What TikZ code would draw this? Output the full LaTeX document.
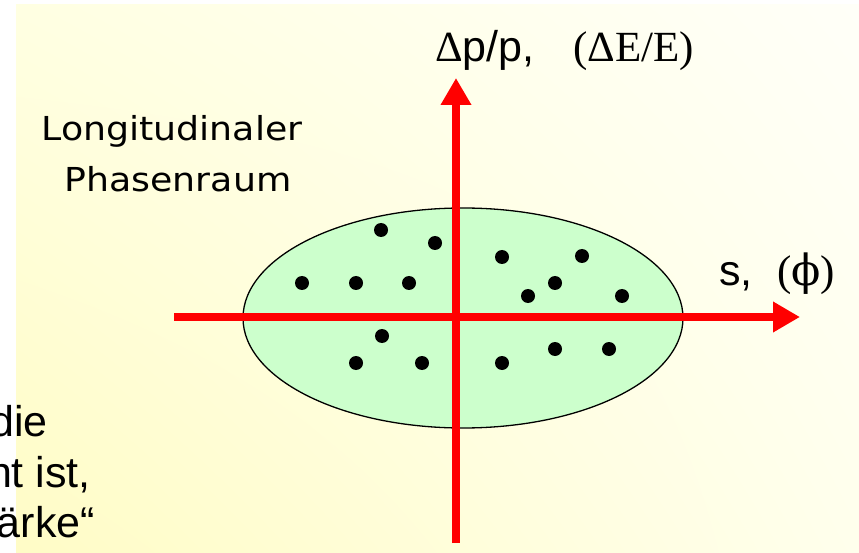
\documentclass[tikz,border=0pt]{standalone}
\usepackage{graphicx}
\usepackage{fontspec}
\setmainfont{Liberation Serif}
\newfontfamily\arialf{Liberation Sans}
\newfontfamily\timesf{Liberation Serif}
\newfontfamily\phifont{DejaVu Serif}
\newfontfamily\comicf{DejaVu Sans}
\usetikzlibrary{arrows.meta,shapes.geometric,shadings}
\definecolor{pgreen}{HTML}{CCFFCC}
\definecolor{bgA}{HTML}{FFFCC6}
\definecolor{bgB}{HTML}{FFFFE2}
\definecolor{bgC}{HTML}{FFFFEC}
\definecolor{bgD}{HTML}{FFFFF8}
\tikzset{
  axisarrow/.style={draw=red, line width=8.5pt, -{Triangle[length=27pt,width=29pt]}},
  dot/.style={circle, fill=black, inner sep=0pt, minimum size=14pt},
  bigtext/.style={inner sep=0pt, font=\fontsize{43}{51}\selectfont},
  comic/.style={inner sep=0pt, font=\comicf\fontsize{33}{39}\selectfont},
  phase/.style={ellipse, draw=black, line width=1.3pt, fill=pgreen, minimum width=440pt, minimum height=220pt, inner sep=0pt}
}
\begin{document}
\begin{tikzpicture}[x=1pt,y=-1pt]
\useasboundingbox (0,0) rectangle (859,553);
\clip (0,0) rectangle (859,553);
\fill[white] (0,0) rectangle (859,553);
\shade[lower left=bgA, upper left=bgB, lower right=bgC, upper right=bgD] (16,5) rectangle (859,553);

\node[phase] (ps) at (463,318) {};

\foreach \i/\x/\y in {1/381/230, 2/435/243, 3/302/283, 4/356/283, 5/409/283, 6/502/257, 7/582/256, 8/555/283, 9/528/296, 10/622/296, 11/382/336, 12/356/363, 13/422/363, 14/502/363, 15/555/349, 16/609/349}
  \node[dot] (d\i) at (\x,\y) {};

\coordinate (hs) at (174,317);
\coordinate (he) at (800,317);
\coordinate (vs) at (456,543);
\coordinate (ve) at (456,78);
\draw[axisarrow] (hs) -- (he);
\draw[axisarrow] (vs) -- (ve);

\node[bigtext, anchor=base west] (ylab) at (435,62) {\timesf Δ\arialf p/p,};
\node[bigtext, anchor=base west] (ylab2) at (573,62) {\timesf (ΔE/E)};
\node[bigtext, anchor=base west] (xlab) at (719,285) {\arialf s,};
\node[bigtext, anchor=base west] (xlab2) at (777,285) {\timesf(\phifont ϕ\timesf)};

\node[comic, anchor=base] (t1) at (172,141) {\scalebox{1.1}[1]{Longitudinaler}};
\node[comic, anchor=base] (t2) at (178,192) {\scalebox{1.1}[1]{Phasenraum}};

\node[bigtext, anchor=base east, font=\arialf\fontsize{43}{51}\selectfont] (l1) at (48,436) {die};
\node[bigtext, anchor=base east, font=\arialf\fontsize{43}{51}\selectfont] (l2) at (91,487) {nt ist,};
\node[bigtext, anchor=base east, font=\arialf\fontsize{43}{51}\selectfont] (l3) at (95,537) {ärke“};
\end{tikzpicture}
\end{document}
